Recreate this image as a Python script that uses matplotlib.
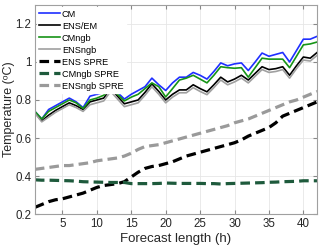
import numpy as np
import matplotlib
matplotlib.use("Agg")
import matplotlib.pyplot as plt

plt.rcParams['font.family'] = ['Liberation Sans', 'DejaVu Sans']

lead = np.arange(1, 43)

cm = [0.74, 0.70, 0.75, 0.77, 0.79, 0.81, 0.79, 0.76, 0.82, 0.83,
      0.84, 0.875, 0.84, 0.805, 0.83, 0.85, 0.87, 0.915, 0.88, 0.85,
      0.89, 0.92, 0.92, 0.945, 0.93, 0.91, 0.95, 0.995, 0.98, 0.99,
      0.995, 0.955, 1.00, 1.047, 1.03, 1.04, 1.05, 1.00, 1.06, 1.12,
      1.12, 1.135]
ens = [0.735, 0.69, 0.72, 0.745, 0.765, 0.785, 0.77, 0.75, 0.79, 0.80,
       0.81, 0.86, 0.82, 0.78, 0.79, 0.80, 0.84, 0.885, 0.845, 0.80,
       0.83, 0.853, 0.853, 0.88, 0.86, 0.843, 0.88, 0.92, 0.895, 0.91,
       0.93, 0.905, 0.94, 0.975, 0.96, 0.965, 0.975, 0.93, 0.98, 1.026,
       1.02, 1.05]
cmngb = [0.74, 0.70, 0.74, 0.76, 0.78, 0.80, 0.785, 0.755, 0.80, 0.81,
         0.825, 0.865, 0.83, 0.795, 0.815, 0.83, 0.86, 0.89, 0.87, 0.816,
         0.86, 0.905, 0.915, 0.93, 0.91, 0.89, 0.93, 0.975, 0.97, 0.967,
         0.97, 0.92, 0.97, 1.02, 1.015, 1.015, 1.015, 0.97, 1.03, 1.09,
         1.095, 1.105]
ensngb = [0.73, 0.685, 0.71, 0.735, 0.755, 0.775, 0.76, 0.74, 0.775, 0.785,
          0.795, 0.845, 0.805, 0.765, 0.775, 0.785, 0.825, 0.87, 0.83, 0.785,
          0.815, 0.838, 0.838, 0.865, 0.845, 0.828, 0.865, 0.905, 0.88, 0.895,
          0.915, 0.89, 0.925, 0.96, 0.945, 0.95, 0.96, 0.915, 0.965, 1.01,
          1.005, 1.035]
ens_spre = [0.235, 0.25, 0.265, 0.275, 0.28, 0.29, 0.30, 0.31, 0.325, 0.34,
            0.35, 0.355, 0.36, 0.37, 0.395, 0.42, 0.44, 0.45, 0.455, 0.465,
            0.475, 0.49, 0.505, 0.515, 0.525, 0.535, 0.545, 0.555, 0.565, 0.575,
            0.59, 0.61, 0.625, 0.64, 0.655, 0.68, 0.715, 0.73, 0.745, 0.76,
            0.775, 0.79]
cmngb_spre = [0.38, 0.378, 0.378, 0.377, 0.376, 0.375, 0.373, 0.37, 0.369, 0.368,
              0.367, 0.366, 0.366, 0.366, 0.36, 0.36, 0.36, 0.36, 0.361, 0.363,
              0.362, 0.361, 0.361, 0.361, 0.361, 0.36, 0.36, 0.358, 0.36, 0.361,
              0.362, 0.363, 0.364, 0.365, 0.367, 0.368, 0.37, 0.371, 0.372, 0.375,
              0.375, 0.375]
ensngb_spre = [0.435, 0.44, 0.445, 0.45, 0.455, 0.455, 0.46, 0.465, 0.47, 0.48,
               0.485, 0.49, 0.495, 0.505, 0.52, 0.54, 0.555, 0.56, 0.565, 0.575,
               0.585, 0.595, 0.605, 0.615, 0.625, 0.635, 0.645, 0.655, 0.665, 0.68,
               0.69, 0.70, 0.715, 0.73, 0.745, 0.76, 0.775, 0.79, 0.80, 0.815,
               0.83, 0.845]

fig = plt.figure(figsize=(3.2, 2.48), dpi=100)
ax = fig.add_axes([0.109, 0.137, 0.882, 0.843])

dash = (0, (3, 1.6))
ax.plot(lead, cm, color='#1f2fff', lw=1.2, label='CM')
ax.plot(lead, ens, color='black', lw=1.2, label='ENS/EM')
ax.plot(lead, cmngb, color='#169416', lw=1.2, label='CMngb')
ax.plot(lead, ensngb, color='#a0a0a0', lw=1.2, label='ENSngb')
ax.plot(lead, ens_spre, color='black', lw=2.3, ls=dash, label='ENS SPRE')
ax.plot(lead, cmngb_spre, color='#1e5a3c', lw=2.3, ls=dash, label='CMngb SPRE')
ax.plot(lead, ensngb_spre, color='#9a9a9a', lw=2.3, ls=dash, label='ENSngb SPRE')

ax.set_xlim(1, 42)
ax.set_ylim(0.2, 1.3)
ax.set_xticks([5, 10, 15, 20, 25, 30, 35, 40])
ax.set_yticks([0.2, 0.4, 0.6, 0.8, 1.0, 1.2])
ax.set_yticklabels(['0.2', '0.4', '0.6', '0.8', '1', '1.2'])
ax.grid(True, color='#e6e6e6', lw=0.6)
ax.set_axisbelow(True)
ax.tick_params(direction='in', length=3, color='#888888', labelsize=8.3,
               labelcolor='#262626', top=True, right=True, pad=3)
ax.tick_params(axis='y', pad=2.5)
for s in ax.spines.values():
    s.set_color('#a0a0a0')
    s.set_linewidth(0.8)

ax.set_xlabel('Forecast length (h)', fontsize=9.5, color='#262626', labelpad=2)
ax.set_ylabel('Temperature (\u1d52C)', fontsize=9, color='#262626')
ax.yaxis.set_label_coords(-0.072, 0.5)

leg = ax.legend(loc='upper left', fontsize=6.6, handlelength=2.2, handletextpad=0.25,
                labelspacing=0.33, borderpad=0.3, borderaxespad=0.2,
                frameon=True, fancybox=False, edgecolor='white', framealpha=1)

fig.savefig('out.png', dpi=100)
